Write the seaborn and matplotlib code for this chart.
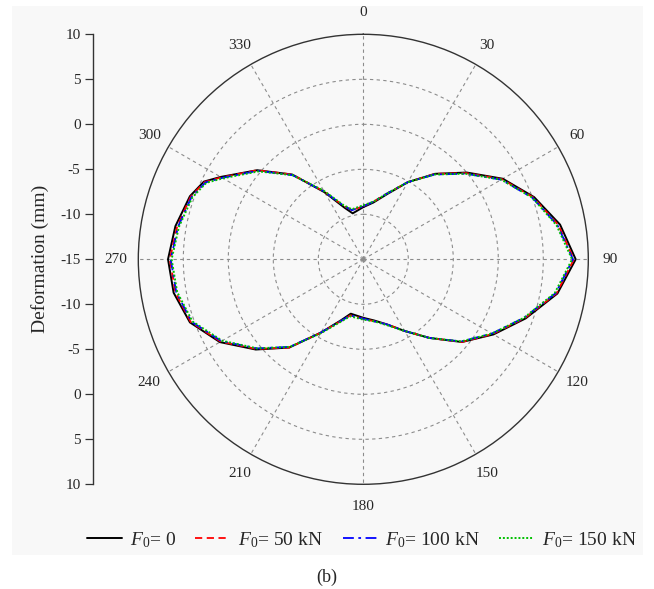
import numpy as np
import pandas as pd
import matplotlib
matplotlib.use("Agg")
import matplotlib.pyplot as plt
import seaborn as sns
from matplotlib.lines import Line2D
from matplotlib.patches import Rectangle

# Measurement angles (degrees, clockwise from top)
angles_deg = [0, 10, 20, 30, 40, 50, 60, 70, 80, 90, 100, 110, 120, 130, 140,
              150, 160, 170, 180, 193, 200, 210, 220, 230, 240, 250, 260, 270,
              280, 290, 296, 300, 310, 320, 330, 340, 347]

# Radial deformation (mm) for each load level
def_f0 = [-9.2, -8.6, -7.3, -5.1, -2.6, 0.0, 2.9, 5.2, 7.2, 8.6, 6.9, 4.2, 1.7,
          -0.7, -3.6, -5.8, -7.3, -8.1, -8.5, -8.8, -7.8, -5.6, -2.2, 0.6, 3.4,
          5.5, 6.4, 6.7, 6.2, 5.5, 4.7, 3.3, 0.4, -2.7, -6.4, -8.9, -9.76]
def_f50 = [-9.1, -8.5, -7.2, -5.1, -2.6, -0.1, 2.8, 5.1, 7.0, 8.4, 6.8, 4.1, 1.6,
           -0.7, -3.6, -5.8, -7.3, -8.0, -8.4, -8.6, -7.7, -5.6, -2.2, 0.5, 3.3,
           5.4, 6.2, 6.5, 6.0, 5.4, 4.6, 3.2, 0.4, -2.7, -6.3, -8.7, -9.4]
def_f100 = [-9.1, -8.5, -7.2, -5.1, -2.7, -0.2, 2.7, 5.0, 6.9, 8.3, 6.7, 4.0, 1.5,
            -0.8, -3.6, -5.8, -7.3, -8.0, -8.4, -8.6, -7.7, -5.6, -2.3, 0.4, 3.2,
            5.3, 6.1, 6.4, 5.9, 5.3, 4.5, 3.1, 0.3, -2.8, -6.3, -8.7, -9.4]
def_f150 = [-9.0, -8.5, -7.2, -5.1, -2.7, -0.2, 2.7, 5.0, 6.8, 8.2, 6.6, 4.0, 1.5,
            -0.8, -3.6, -5.8, -7.2, -8.0, -8.3, -8.5, -7.6, -5.5, -2.3, 0.4, 3.1,
            5.2, 6.0, 6.3, 5.8, 5.2, 4.4, 3.0, 0.2, -2.8, -6.2, -8.6, -9.3]

series_labels = [r"$F_{\mathit{0}}$= 0", r"$F_{\mathit{0}}$= 50 kN",
                 r"$F_{\mathit{0}}$= 100 kN", r"$F_{\mathit{0}}$= 150 kN"]
series_values = [def_f0, def_f50, def_f100, def_f150]
series_colors = ["#000000", "#ff0000", "#0000ff", "#00c000"]
series_dashes = ["", (4, 2.5), (6, 2.5, 1.5, 2.5), (1, 1)]
series_widths = [1.4, 1.3, 1.3, 1.4]

theta_ticks_deg = list(range(0, 360, 30))
theta_labels = [str(a) for a in theta_ticks_deg]
ring_ticks = [-10, -5, 0, 5]
left_tick_labels = ["10", "5", "0", "-5", "-10", "-15", "-10", "-5", "0", "5", "10"]

# Long-form table, each curve closed by repeating its first point
rows = []
for lab, vals in zip(series_labels, series_values):
    ang = angles_deg + [360]
    vv = vals + [vals[0]]
    for a, v in zip(ang, vv):
        rows.append({"theta": np.deg2rad(a), "deformation": v, "load": lab})
df = pd.DataFrame(rows)

sns.set_theme(style="white")
plt.rcParams["font.family"] = ["Liberation Serif", "DejaVu Serif"]
plt.rcParams["mathtext.fontset"] = "custom"
plt.rcParams["mathtext.rm"] = "Liberation Serif"
plt.rcParams["mathtext.it"] = "Liberation Serif:italic"

W, H = 654, 589
fig = plt.figure(figsize=(W / 100, H / 100), dpi=100, facecolor="white")
# light grey panel behind the drawing
fig.patches.append(Rectangle((12 / W, 1 - 555 / H), (643 - 12) / W, (555 - 6) / H,
                             transform=fig.transFigure, facecolor="#f8f8f8",
                             edgecolor="none", zorder=-10))

cx, cy, R = 363.3, 259.3, 225.0
ax = fig.add_axes([(cx - R) / W, (H - cy - R) / H, 2 * R / W, 2 * R / H],
                  projection="polar")
ax.set_facecolor("none")
ax.set_theta_zero_location("N")
ax.set_theta_direction(-1)

sns.lineplot(data=df, x="theta", y="deformation", hue="load", style="load",
             hue_order=series_labels, style_order=series_labels,
             palette=dict(zip(series_labels, series_colors)),
             dashes=dict(zip(series_labels, series_dashes)),
             size="load", sizes=dict(zip(series_labels, series_widths)),
             sort=False, estimator=None, legend=False, ax=ax)

ax.set_ylim(-15, 10)
ax.set_yticks(ring_ticks)
ax.set_yticklabels([])
ax.set_xticks(np.deg2rad(theta_ticks_deg))
ax.set_xticklabels(theta_labels, fontsize=11)
ax.set_xticks(np.deg2rad(np.arange(15, 360, 30)), minor=True)
ax.tick_params(axis="x", which="major", direction="in", length=6, width=0.9,
               color="#333333", pad=9)
ax.tick_params(axis="x", which="minor", direction="in", length=3, width=0.8,
               color="#333333")
ax.grid(True, color="#8c8c8c", linestyle=(0, (3, 3)), linewidth=0.8)
ax.spines["polar"].set_color("#333333")
ax.spines["polar"].set_linewidth(1.0)
ax.set_xlabel("")
ax.set_ylabel("")

# Linear deformation scale drawn to the left of the polar plot
lax = fig.add_axes([93 / W, (H - cy - R) / H, 0.0001, 2 * R / H])
lax.set_facecolor("none")
for s in ["top", "right", "bottom"]:
    lax.spines[s].set_visible(False)
lax.spines["left"].set_color("#333333")
lax.spines["left"].set_linewidth(1.0)
lax.set_ylim(-25, 25)
lax.set_yticks(np.arange(-25, 26, 5))
lax.set_yticklabels(left_tick_labels, fontsize=11)
lax.set_xticks([])
lax.tick_params(axis="y", direction="out", length=6, width=0.9, color="#333333",
                pad=3, left=True)
lax.set_ylabel("Deformation (mm)", fontsize=14, labelpad=8)

handles = [Line2D([], [], color=c, lw=w, linestyle="-" if d == "" else (0, d))
           for c, d, w in zip(series_colors, series_dashes, series_widths)]
fig.legend(handles, series_labels, loc="center", bbox_to_anchor=(362 / W, 1 - 540 / H),
           ncol=4, frameon=False, fontsize=14, handlelength=1.8, handletextpad=0.4,
           columnspacing=1.0, borderpad=0.2)

fig.text(327 / W, 1 - 577 / H, "(b)", ha="center", va="center", fontsize=13)

fig.savefig("out.png", dpi=100, facecolor=fig.get_facecolor())
